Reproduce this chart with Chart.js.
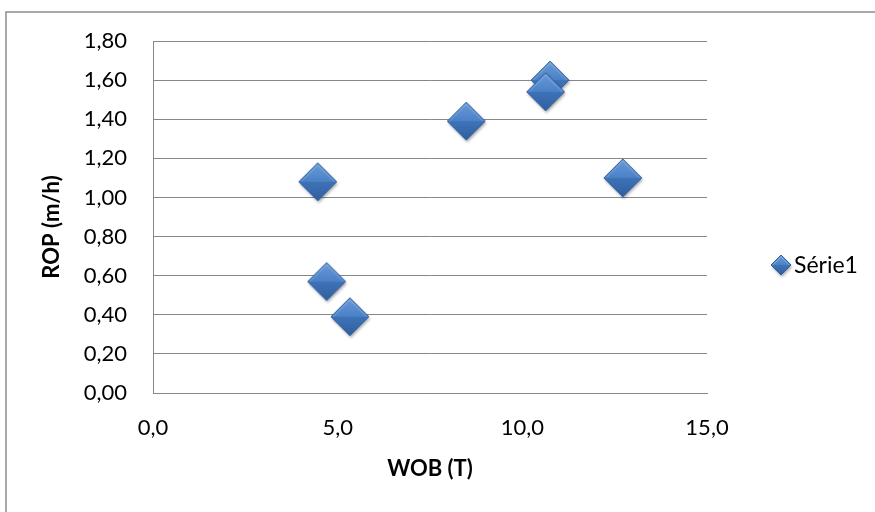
<!DOCTYPE html>
<html>
<head>
<meta charset="utf-8">
<script src="https://cdn.jsdelivr.net/npm/chart.js@4/dist/chart.umd.min.js"></script>
<style>
  html, body { margin: 0; padding: 0; background: #ffffff; }
  #wrap { width: 875px; height: 512px; position: relative; }
</style>
</head>
<body>
<div id="wrap"><canvas id="chart" width="875" height="512"></canvas></div>
<script>
// WOB (T) vs ROP (m/h)
const seriesName = 'Série1';
const wobValues = [10.75, 10.63, 8.48, 4.46, 12.72, 4.70, 5.33];
const ropValues = [1.60, 1.54, 1.39, 1.08, 1.10, 0.57, 0.39];
const xTickLabels = ['0,0', '5,0', '10,0', '15,0'];
const yTickLabels = ['0,00', '0,20', '0,40', '0,60', '0,80', '1,00', '1,20', '1,40', '1,60', '1,80'];
const xTitle = 'WOB (T)';
const yTitle = 'ROP (m/h)';

const FONT = 'Lato, "Open Sans", sans-serif';
const GRID = '#878787';

// Bevelled blue diamond used as the point style
function makeDiamond(r) {
  const pad = 5;
  const size = 2 * r + 2 * pad;
  const c = document.createElement('canvas');
  c.width = size; c.height = size;
  const g = c.getContext('2d');
  const cx = size / 2, cy = size / 2;
  const diamond = () => {
    g.beginPath();
    g.moveTo(cx - r, cy);
    g.lineTo(cx, cy - r);
    g.lineTo(cx + r, cy);
    g.lineTo(cx, cy + r);
    g.closePath();
  };
  g.save();
  g.shadowColor = 'rgba(0,0,0,0.35)';
  g.shadowBlur = 3;
  g.shadowOffsetX = 1;
  g.shadowOffsetY = 2;
  diamond();
  g.fillStyle = '#3b6db0';
  g.fill();
  g.restore();

  // upper facet
  let gr = g.createLinearGradient(cx, cy - r, cx, cy);
  gr.addColorStop(0, '#6b9bd8');
  gr.addColorStop(1, '#4a81c7');
  g.beginPath();
  g.moveTo(cx - r, cy); g.lineTo(cx, cy - r); g.lineTo(cx + r, cy); g.closePath();
  g.fillStyle = gr; g.fill();

  // lower facet
  gr = g.createLinearGradient(cx, cy, cx, cy + r);
  gr.addColorStop(0, '#3f73b8');
  gr.addColorStop(1, '#2f5f9f');
  g.beginPath();
  g.moveTo(cx - r, cy); g.lineTo(cx + r, cy); g.lineTo(cx, cy + r); g.closePath();
  g.fillStyle = gr; g.fill();

  // bevel edges
  const b = Math.max(2, r * 0.12);
  g.strokeStyle = 'rgba(255,255,255,0.25)';
  g.lineWidth = 1;
  g.beginPath();
  g.moveTo(cx - r + b, cy); g.lineTo(cx, cy - r + b); g.lineTo(cx + r - b, cy);
  g.stroke();

  diamond();
  g.strokeStyle = '#32619f';
  g.lineWidth = 1;
  g.stroke();
  return c;
}

const pointMarker = makeDiamond(19);
const legendMarker = makeDiamond(10);

const points = wobValues.map((x, i) => ({ x: x, y: ropValues[i] }));

// Outer frame of the chart object
const framePlugin = {
  id: 'frame',
  beforeDraw(chart) {
    const ctx = chart.ctx;
    ctx.save();
    ctx.fillStyle = '#ffffff';
    ctx.fillRect(0, 0, chart.width, chart.height);
    ctx.strokeStyle = '#8c8c8c';
    ctx.lineWidth = 1.5;
    ctx.beginPath();
    ctx.moveTo(6, chart.height + 2);
    ctx.lineTo(6, 12);
    ctx.lineTo(chart.width + 2, 12);
    ctx.stroke();
    ctx.restore();
  }
};

// Vertical axis title and legend entry on the right
const sideTextPlugin = {
  id: 'sideText',
  afterDraw(chart) {
    const ctx = chart.ctx;
    const ds = chart.data.datasets[0];
    ctx.save();
    ctx.fillStyle = '#000000';

    // y-axis title, rotated
    ctx.save();
    ctx.translate(52, 227);
    ctx.rotate(-Math.PI / 2);
    ctx.font = 'bold 22px ' + FONT;
    ctx.textAlign = 'center';
    ctx.textBaseline = 'middle';
    ctx.fillText(yTitle, 0, 0);
    ctx.restore();

    // legend
    const cx = 781, cy = 265;
    ctx.drawImage(legendMarker, cx - legendMarker.width / 2, cy - legendMarker.height / 2);
    ctx.font = '23px ' + FONT;
    ctx.textBaseline = 'middle';
    ctx.textAlign = 'left';
    ctx.fillText(ds.label, 794, cy + 1);
    ctx.restore();
  }
};

new Chart(document.getElementById('chart'), {
  type: 'scatter',
  data: {
    datasets: [{
      label: seriesName,
      data: points,
      pointStyle: pointMarker,
      pointRadius: 19,
      pointHoverRadius: 19,
      showLine: false
    }]
  },
  options: {
    responsive: false,
    animation: false,
    events: [],
    layout: { padding: { left: 0, top: 41, right: 168, bottom: 0 } },
    plugins: {
      legend: { display: false },
      tooltip: { enabled: false }
    },
    scales: {
      x: {
        type: 'linear',
        min: 0,
        max: 15,
        afterBuildTicks(scale) {
          scale.ticks = xTickLabels.map((_, i) => ({ value: i * 5 }));
        },
        ticks: {
          autoSkip: false,
          maxRotation: 0,
          padding: 22,
          color: '#000000',
          font: { family: FONT, size: 22 },
          callback: (v, i) => xTickLabels[i]
        },
        grid: { display: false, drawTicks: false },
        border: { display: true, color: GRID, width: 1 },
        title: {
          display: true,
          text: xTitle,
          color: '#000000',
          font: { family: FONT, size: 22, weight: 'bold' },
          padding: { top: 0, bottom: 30 }
        },
        afterFit(scale) { scale.height = 119; }
      },
      y: {
        type: 'linear',
        min: 0,
        max: 1.8,
        afterBuildTicks(scale) {
          scale.ticks = yTickLabels.map((_, i) => ({ value: i * 0.2 }));
        },
        ticks: {
          autoSkip: false,
          padding: 26,
          color: '#000000',
          font: { family: FONT, size: 22 },
          callback: (v, i) => yTickLabels[i]
        },
        grid: { color: GRID, lineWidth: 1, drawTicks: false },
        border: { display: true, color: GRID, width: 1 },
        title: { display: false },
        afterFit(scale) { scale.width = 153; }
      }
    }
  },
  plugins: [framePlugin, sideTextPlugin]
});
</script>
</body>
</html>
